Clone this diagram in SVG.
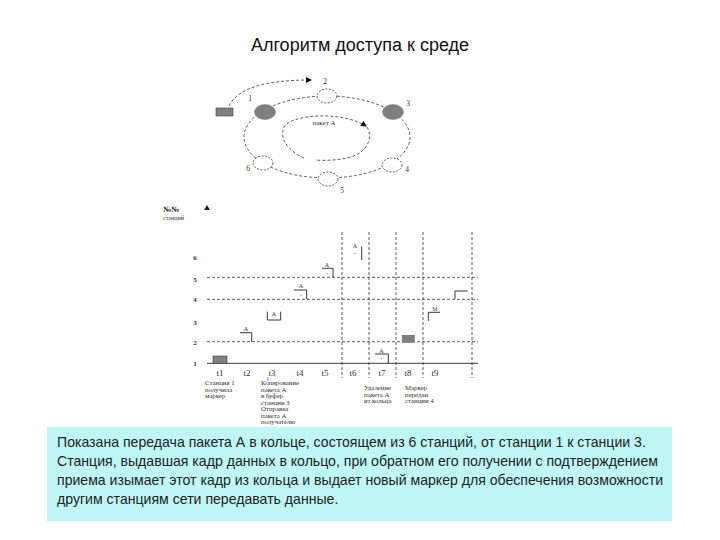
<svg xmlns="http://www.w3.org/2000/svg" width="720" height="540" viewBox="0 0 720 540">
<style>
.title{font-family:"Liberation Sans",Arial,sans-serif;font-size:18px;fill:#111}
.body{font-family:"Liberation Sans",Arial,sans-serif;font-size:14.1px;fill:#222}
.sm{font-family:"Liberation Serif","Times New Roman",serif;fill:#333}
.lab{font-size:7.5px}
.tl{font-size:9px}
.cap{font-size:6.8px}
.tiny{font-size:6px}
.ax{font-size:7px;font-weight:bold}
.dash{fill:none;stroke:#333;stroke-width:0.8;stroke-dasharray:3 2}
.solid{fill:none;stroke:#222;stroke-width:0.9}
.st{fill:#fff;stroke:#333;stroke-width:0.8;stroke-dasharray:2 1.5}
.stf{fill:#7f7f7f;stroke:#777;stroke-width:0.5}
</style>
<defs>
<marker id="ah" markerWidth="6" markerHeight="6" refX="5" refY="3" orient="auto" markerUnits="userSpaceOnUse">
<path d="M0,0 L6,3 L0,6 z" fill="#111"/>
</marker>
</defs>
<rect width="720" height="540" fill="#fff"/>
<text class="title" x="360" y="51" text-anchor="middle">Алгоритм доступа к среде</text>

<g id="connectors">
<ellipse cx="327" cy="137" rx="83" ry="41" class="dash"/>
<path d="M229 106 C238 88 265 80 311 80" class="dash" marker-end="url(#ah)"/>
<path d="M304 158 C288 151 279 138 284 127 C290 115 340 110 366 126" class="dash" marker-end="url(#ah)"/>
<path d="M367 127 C373 137 368 149 356 155 C345 160 326 161 315 160" class="dash"/>
</g>

<g id="token"><rect x="216" y="108" width="17" height="8" fill="#7f7f7f" stroke="#444" stroke-width="0.6"/></g>
<g id="station1"><ellipse cx="265" cy="112" rx="10.5" ry="7.5" class="stf"/><text class="sm lab" x="250" y="101" text-anchor="middle">1</text></g>
<g id="station2"><ellipse cx="327" cy="96" rx="10" ry="7" class="st"/><text class="sm lab" x="325" y="84" text-anchor="middle">2</text></g>
<g id="station3"><ellipse cx="393" cy="112" rx="10.5" ry="7.5" class="stf"/><text class="sm lab" x="408" y="106" text-anchor="middle">3</text></g>
<g id="station4"><ellipse cx="392" cy="165" rx="10" ry="7" class="st"/><text class="sm lab" x="407" y="172" text-anchor="middle">4</text></g>
<g id="station5"><ellipse cx="328" cy="179" rx="10" ry="7" class="st"/><text class="sm lab" x="342" y="193" text-anchor="middle">5</text></g>
<g id="station6"><ellipse cx="263" cy="163" rx="10" ry="7" class="st"/><text class="sm lab" x="248" y="171" text-anchor="middle">6</text></g>
<text class="sm" x="324" y="125" font-size="7" text-anchor="middle">пакет А</text>

<g id="chart">
<text class="sm" x="163" y="212" font-size="8" font-weight="bold">№№</text>
<text class="sm" x="163" y="220" font-size="6">станций</text>
<polygon points="204,210 210,210 207,205" fill="#222"/>
<g class="sm ax" text-anchor="middle">
<text x="195" y="260">6</text><text x="195" y="282">5</text><text x="195" y="302">4</text>
<text x="195" y="325">3</text><text x="195" y="345">2</text><text x="195" y="366">1</text>
</g>
<line x1="207" y1="277.3" x2="478" y2="277.3" class="dash"/>
<line x1="207" y1="299.3" x2="478" y2="299.3" class="dash"/>
<line x1="207" y1="341.7" x2="478" y2="341.7" class="dash"/>
<line x1="207" y1="363.3" x2="478" y2="363.3" class="solid"/>
<line x1="342" y1="232" x2="342" y2="378" class="dash"/>
<line x1="369" y1="232" x2="369" y2="378" class="dash"/>
<line x1="396" y1="232" x2="396" y2="378" class="dash"/>
<line x1="423" y1="232" x2="423" y2="378" class="dash"/>
<line x1="472" y1="232" x2="472" y2="378" class="dash"/>

<rect x="213" y="356" width="14" height="7.3" fill="#7f7f7f" stroke="#444" stroke-width="0.6"/>
<path d="M240 332.7 H251.7 V341.7" class="solid"/>
<text class="sm tiny" x="246" y="331" text-anchor="middle">A</text>
<path d="M267.3 311.7 V320 H280.7 V311.7" class="solid"/>
<text class="sm tiny" x="274" y="316" text-anchor="middle">A</text>
<path d="M294 290 H306.7 V299.3" class="solid"/>
<text class="sm tiny" x="301" y="288" text-anchor="middle">A</text>
<text class="sm tiny" x="301" y="297" text-anchor="middle">-</text>
<path d="M322 268.3 H333 V277.3" class="solid"/>
<text class="sm tiny" x="327" y="267" text-anchor="middle">A</text>
<text class="sm tiny" x="327" y="275" text-anchor="middle">-</text>
<path d="M361.7 246.5 V260" class="solid"/>
<text class="sm tiny" x="355" y="248" text-anchor="middle">A</text>
<text class="sm tiny" x="355" y="255" text-anchor="middle">-</text>
<path d="M375 354 H388.3 V363.3" class="solid"/>
<text class="sm tiny" x="381.5" y="353" text-anchor="middle">A</text>
<text class="sm tiny" x="381.5" y="360" text-anchor="middle">-</text>
<rect x="402.3" y="335.3" width="12" height="7" fill="#7f7f7f" stroke="#555" stroke-width="0.5"/>
<path d="M428.3 321 V312.3 H440" class="solid"/>
<text class="sm tiny" x="435" y="311" text-anchor="middle">M</text>
<path d="M455 299 V291 H467.7" class="solid"/>

<g class="sm tl" text-anchor="middle">
<text x="220" y="376">t1</text><text x="247" y="376">t2</text><text x="272" y="376">t3</text>
<text x="300" y="376">t4</text><text x="325" y="376">t5</text><text x="353" y="376">t6</text>
<text x="382" y="376">t7</text><text x="408" y="376">t8</text><text x="435" y="376">t9</text>
</g>
<line x1="268" y1="377" x2="268" y2="381" stroke="#444" stroke-width="0.6"/>
<g class="sm cap">
<text x="205" y="385">Станция 1</text><text x="205" y="391.5">получила</text><text x="205" y="398">маркер</text>
<text x="261" y="385">Копирование</text><text x="261" y="391.5">пакета А</text><text x="261" y="398">в буфер</text>
<text x="261" y="404.5">станции 3</text><text x="261" y="411">Отправка</text><text x="261" y="417.5">пакета А</text>
<text x="261" y="424">получателю</text>
<text x="364" y="390">Удаление</text><text x="364" y="396.5">пакета А</text><text x="364" y="403">из кольца</text>
<text x="405" y="390">Маркер</text><text x="405" y="396.5">передан</text><text x="405" y="403">станции 4</text>
</g>
</g>

<g id="note">
<rect x="47" y="427" width="625" height="94" fill="#BFF7F7"/>
<text class="body" x="57" y="447">Показана передача пакета А в кольце, состоящем из 6 станций, от станции 1 к станции 3.</text>
<text class="body" x="57" y="466">Станция, выдавшая кадр данных в кольцо, при обратном его получении с подтверждением</text>
<text class="body" x="57" y="485">приема изымает этот кадр из кольца и выдает новый маркер для обеспечения возможности</text>
<text class="body" x="57" y="504">другим станциям сети передавать данные.</text>
</g>
</svg>
